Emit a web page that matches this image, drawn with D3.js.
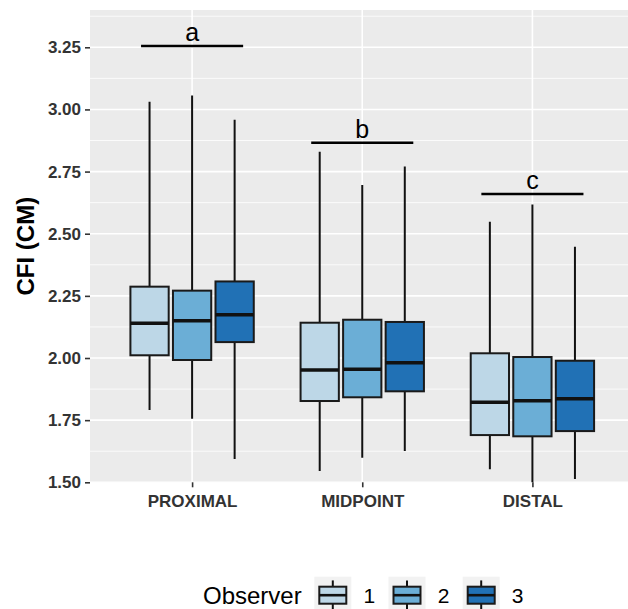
<!DOCTYPE html>
<html>
<head>
  <meta charset="utf-8">
  <script src="https://d3js.org/d3.v7.min.js"></script>
  <style>
    body { margin: 0; background: #fff; }
    svg { display: block; font-family: "Liberation Sans", Arial, sans-serif; }
  </style>
</head>
<body>
<div id="chart"></div>
<script>
// categories and groups
var categories = ["PROXIMAL", "MIDPOINT", "DISTAL"];
var observers = ["1", "2", "3"];
var colors = ["#bdd7e7", "#6baed6", "#2171b5"];

// box statistics, one row per category, one value per observer
var whiskerLow  = [[1.791, 1.756, 1.594], [1.545, 1.599, 1.626], [1.552, 1.480, 1.513]];
var q1          = [[2.011, 1.992, 2.064], [1.827, 1.842, 1.866], [1.690, 1.685, 1.706]];
var median      = [[2.140, 2.150, 2.174], [1.952, 1.955, 1.981], [1.822, 1.828, 1.836]];
var q3          = [[2.287, 2.271, 2.308], [2.142, 2.154, 2.145], [2.019, 2.004, 1.989]];
var whiskerHigh = [[3.031, 3.056, 2.958], [2.830, 2.696, 2.770], [2.548, 2.618, 2.448]];

// significance letters
var sigLetters = ["a", "b", "c"];
var sigY = [3.255, 2.866, 2.660];

var yTicks = [1.50, 1.75, 2.00, 2.25, 2.50, 2.75, 3.00, 3.25];
var yMinor = [1.625, 1.875, 2.125, 2.375, 2.625, 2.875, 3.125, 3.375];

var W = 628, H = 609;
var pLeft = 90, pTop = 10, pBottom = 482.3, pRight = 634.5;

var svg = d3.select("#chart").append("svg")
  .attr("width", W).attr("height", H);

var x = d3.scalePoint().domain(categories).range([pLeft, pRight]).padding(0.6);
var step = x.step();
var dodge = d3.scaleBand().domain(observers)
  .range([-0.375 * step, 0.375 * step])
  .paddingInner(0.1).paddingOuter(0.05);
var y = d3.scaleLinear().domain([1.5, 3.4]).range([pBottom, pTop]);

svg.append("clipPath").attr("id", "clip")
  .append("rect").attr("x", pLeft).attr("y", pTop)
  .attr("width", pRight - pLeft).attr("height", pBottom - pTop);

// panel
var panel = svg.append("g").attr("clip-path", "url(#clip)");
panel.append("rect")
  .attr("x", pLeft).attr("y", pTop)
  .attr("width", pRight - pLeft).attr("height", pBottom - pTop)
  .attr("fill", "#ebebeb");

panel.selectAll(".minor").data(yMinor).enter().append("line")
  .attr("x1", pLeft).attr("x2", pRight)
  .attr("y1", d => y(d)).attr("y2", d => y(d))
  .attr("stroke", "#fff").attr("stroke-width", 0.8);
panel.selectAll(".major").data(yTicks).enter().append("line")
  .attr("x1", pLeft).attr("x2", pRight)
  .attr("y1", d => y(d)).attr("y2", d => y(d))
  .attr("stroke", "#fff").attr("stroke-width", 1.6);
panel.selectAll(".vmajor").data(categories).enter().append("line")
  .attr("x1", d => x(d)).attr("x2", d => x(d))
  .attr("y1", pTop).attr("y2", pBottom)
  .attr("stroke", "#fff").attr("stroke-width", 1.6);

// boxes
var boxes = [];
categories.forEach(function(c, i) {
  observers.forEach(function(o, j) {
    boxes.push({
      cat: c, obs: o, color: colors[j],
      lo: whiskerLow[i][j], q1: q1[i][j], med: median[i][j],
      q3: q3[i][j], hi: whiskerHigh[i][j]
    });
  });
});

var bw = dodge.bandwidth();
var g = panel.selectAll(".box").data(boxes).enter().append("g")
  .attr("transform", d => "translate(" + (x(d.cat) + dodge(d.obs)) + ",0)");

g.append("line")
  .attr("x1", bw / 2).attr("x2", bw / 2)
  .attr("y1", d => y(d.hi)).attr("y2", d => y(d.q3))
  .attr("stroke", "#111").attr("stroke-width", 2);
g.append("line")
  .attr("x1", bw / 2).attr("x2", bw / 2)
  .attr("y1", d => y(d.q1)).attr("y2", d => y(d.lo))
  .attr("stroke", "#111").attr("stroke-width", 2);
g.append("rect")
  .attr("x", 0).attr("width", bw)
  .attr("y", d => y(d.q3)).attr("height", d => y(d.q1) - y(d.q3))
  .attr("fill", d => d.color)
  .attr("stroke", "#1a1a1a").attr("stroke-width", 2);
g.append("line")
  .attr("x1", 0).attr("x2", bw)
  .attr("y1", d => y(d.med)).attr("y2", d => y(d.med))
  .attr("stroke", "#111").attr("stroke-width", 3.6);

// significance bars
var sig = svg.selectAll(".sig").data(categories).enter().append("g");
sig.append("line")
  .attr("x1", d => x(d) - 0.3 * step).attr("x2", d => x(d) + 0.3 * step)
  .attr("y1", (d, i) => y(sigY[i])).attr("y2", (d, i) => y(sigY[i]))
  .attr("stroke", "#000").attr("stroke-width", 2.4);
sig.append("text")
  .attr("x", d => x(d)).attr("y", (d, i) => y(sigY[i]) - 5)
  .attr("text-anchor", "middle")
  .attr("font-size", 25).attr("fill", "#000")
  .text((d, i) => sigLetters[i]);

// axes
var yAxis = svg.append("g").attr("transform", "translate(" + pLeft + ",0)")
  .call(d3.axisLeft(y).tickValues(yTicks).tickFormat(d3.format(".2f")).tickSize(5).tickPadding(4));
yAxis.select(".domain").remove();
yAxis.selectAll(".tick line").attr("stroke", "#333").attr("stroke-width", 1.6);
yAxis.selectAll(".tick text")
  .attr("font-size", 17).attr("font-weight", "bold").attr("fill", "#333")
  .attr("font-family", "Liberation Sans, Arial, sans-serif");

var xAxis = svg.append("g").attr("transform", "translate(0," + pBottom + ")")
  .call(d3.axisBottom(x).tickSize(5).tickPadding(8));
xAxis.select(".domain").remove();
xAxis.selectAll(".tick line").attr("stroke", "#333").attr("stroke-width", 1.6);
xAxis.selectAll(".tick text")
  .attr("font-size", 17).attr("font-weight", "bold").attr("fill", "#333")
  .attr("font-family", "Liberation Sans, Arial, sans-serif");

svg.append("text")
  .attr("transform", "translate(34," + ((pTop + pBottom) / 2) + ") rotate(-90)")
  .attr("text-anchor", "middle")
  .attr("font-size", 24).attr("font-weight", "bold").attr("fill", "#000")
  .text("CFI (CM)");

// legend
var legend = svg.append("g");
legend.append("text")
  .attr("x", 203).attr("y", 603.5)
  .attr("font-size", 24).attr("fill", "#000")
  .text("Observer");

var keySize = 37, keyStep = 74.2, keyX0 = 314.3, keyY0 = 576.7;
var key = legend.selectAll(".key").data(observers).enter().append("g")
  .attr("transform", (d, i) => "translate(" + (keyX0 + i * keyStep) + "," + keyY0 + ")");
key.append("rect")
  .attr("width", keySize).attr("height", keySize).attr("fill", "#f2f2f2");
key.append("line")
  .attr("x1", keySize / 2).attr("x2", keySize / 2)
  .attr("y1", keySize * 0.1).attr("y2", keySize * 0.9)
  .attr("stroke", "#111").attr("stroke-width", 2);
key.append("rect")
  .attr("x", 5).attr("width", keySize - 10)
  .attr("y", keySize * 0.27).attr("height", keySize * 0.46)
  .attr("fill", (d, i) => colors[i])
  .attr("stroke", "#1a1a1a").attr("stroke-width", 2);
key.append("line")
  .attr("x1", 5).attr("x2", keySize - 5)
  .attr("y1", keySize / 2).attr("y2", keySize / 2)
  .attr("stroke", "#111").attr("stroke-width", 2.6);
key.append("text")
  .attr("x", keySize + 18).attr("y", 26.8)
  .attr("text-anchor", "middle")
  .attr("font-size", 21).attr("fill", "#000")
  .text(d => d);
</script>
</body>
</html>
